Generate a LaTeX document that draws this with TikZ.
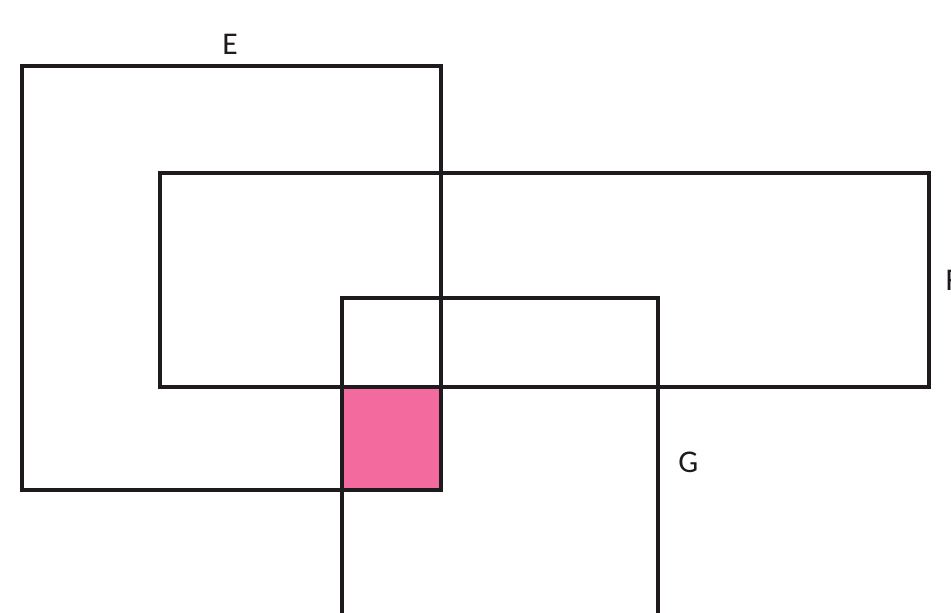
\documentclass[tikz,border=0pt]{standalone}
\usepackage{fontspec}
\setsansfont{Carlito}
\definecolor{ink}{HTML}{1E1A1E}
\definecolor{rose}{HTML}{F26A9E}

\begin{document}
\begin{tikzpicture}[font=\sffamily\fontsize{9}{11}\selectfont,text=ink]
  \tikzset{setbox/.style={draw=ink,line width=0.9pt}}
  % frame of the picture; G runs off the lower edge
  \useasboundingbox (0,0) rectangle (9.51,6.12);
  \clip (0,0) rectangle (9.51,6.12);

  % the shaded overlap of E and G, below F
  \fill[rose] (3.42,1.22) rectangle (4.41,2.25);

  \draw[setbox] (0.22,1.22) rectangle (4.41,5.46);
  \draw[setbox] (1.60,2.25) rectangle (9.29,4.39);
  \draw[setbox] (3.42,-0.2) rectangle (6.58,3.14);
  \draw[setbox] (3.42,1.22) rectangle (4.41,2.25);

  \node (labE) at (2.30,5.68) {E};
  \node[anchor=west,inner sep=0pt] (labF) at (9.45,3.32) {F};
  \node[anchor=west] (labG) at (6.66,1.50) {G};
\end{tikzpicture}
\end{document}
